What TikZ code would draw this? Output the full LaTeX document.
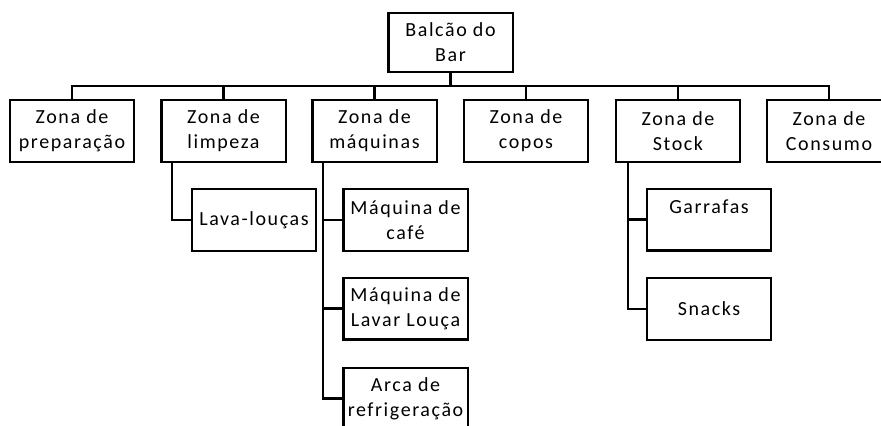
\documentclass[tikz,border=0pt]{standalone}
\usepackage{fontspec}
\setmainfont[LetterSpace=8]{Carlito}
\usetikzlibrary{positioning,calc}

\begin{document}
\begin{tikzpicture}[x=0.75pt,y=-0.75pt,font=\fontsize{15}{18.75}\selectfont,
  b/.style={draw,line width=1.7pt,inner sep=0pt,align=center,minimum width=93.2pt,minimum height=46.3pt},
  l/.style={line width=1.7pt}]
\useasboundingbox (0,0) rectangle (881,425);
\clip (0,0) rectangle (881,425);
\node[b,minimum height=44.1pt] (root) at (450.5,42.5) {Balcão do\\Bar};
\foreach \i/\t/\x in {1/{Zona de\\preparação}/72, 2/{Zona de\\limpeza}/223.5, 3/{Zona de\\máquinas}/374.5,
  4/{Zona de\\copos}/526, 5/{Zona de\\Stock}/678, 6/{Zona de\\Consumo}/829}
  \node[b] (z\i) at (\x,131) {\t};
\node[b] (lava) at (254,220) {Lava-louças};
\node[b] (maq1) at (405.5,220) {Máquina de\\café};
\node[b] (maq2) at (405.5,308.5) {Máquina de\\Lavar Louça};
\node[b] (maq3) at (405.5,398.5) {Arca de\\refrigeração};
\node[b] (garr) at (709,219.5) {Garrafas\\\mbox{}};
\node[b] (snck) at (709,309) {Snacks};
% ligacoes
\foreach \i in {1,...,6} \draw[l] (root.south) -- ++(0,13) -| (z\i.north);
\draw[l] ($(z2.south west)+(12,0)$) |- (lava.west);
\foreach \c in {maq1,maq2,maq3} \draw[l] ($(z3.south west)+(12,0)$) |- (\c.west);
\foreach \c in {garr,snck} \draw[l] ($(z5.south west)+(13,0)$) |- (\c.west);
\end{tikzpicture}
\end{document}
